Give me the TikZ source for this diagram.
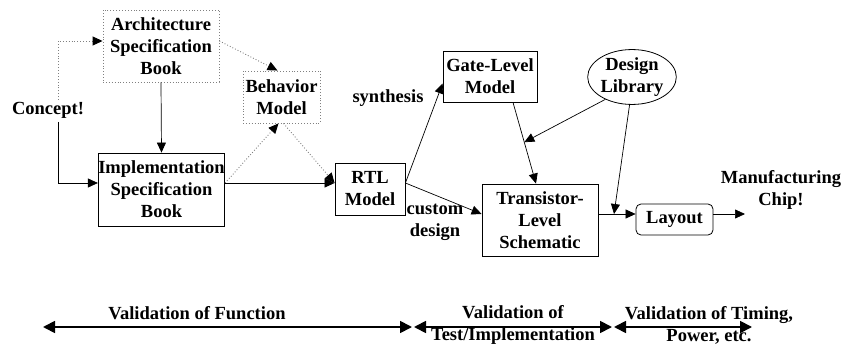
\documentclass[tikz,border=0pt]{standalone}
\usepackage{fontspec}
\setmainfont{Liberation Serif}
\usetikzlibrary{arrows.meta,shapes.geometric}
\begin{document}
\begin{tikzpicture}[x=1pt,y=-1pt,
  txt/.style={font=\fontsize{18.5}{22}\selectfont\bfseries, align=center, inner sep=0pt},
  box/.style={txt, draw, line width=0.8pt},
  dotbox/.style={txt, draw=gray, dotted, line width=0.9pt},
  arr/.style={line width=0.7pt, -{Triangle[length=10pt,width=9pt]}},
  dotarr/.style={draw=gray, dotted, line width=0.9pt, -{Triangle[length=10pt,width=9pt,color=black]}},
  bigarr/.style={line width=1.8pt, {Triangle[length=12pt,width=12pt]}-{Triangle[length=12pt,width=12pt]}}
]
\useasboundingbox (0,0) rectangle (844,350);
% nodes
\node[dotbox, minimum width=116pt, minimum height=72pt] (arch) at (161,46) {Architecture\\Specification\\Book};
\node[box, minimum width=115pt, minimum height=73pt] (impl) at (161.5,189.5) {Implementation\\Specification\\Book};
\node[dotbox, minimum width=77pt, minimum height=52pt] (beh) at (281.5,97) {Behavior\\Model};
\node[box, minimum width=70pt, minimum height=52pt] (rtl) at (370,189) {RTL\\Model};
\node[box, minimum width=94pt, minimum height=51pt] (gate) at (490,76.5) {Gate-Level\\Model};
\node[box, ellipse, minimum width=86pt, minimum height=51pt] (lib) at (632,77) {Design\\Library};
\node[box, minimum width=116pt, minimum height=72pt] (trans) at (540,220) {Transistor-\\Level\\Schematic};
\node[box, rounded corners=5pt, minimum width=77pt, minimum height=31pt] (layout) at (674.5,219.5) {Layout};
\node[txt] (concept) at (48,110) {Concept!};
\node[txt] (synth) at (388,98) {synthesis};
\node[txt] (custom) at (435,222) {custom\\design};
\node[txt] (manu) at (781,190) {Manufacturing\\Chip!};
\node[txt] (vf) at (197,313) {Validation of Function};
\node[txt] (vt) at (513,325) {Validation of\\Test/Implementation};
\node[txt] (vp) at (709,325) {Validation of Timing,\\Power, etc.};
% coordinates
\coordinate (cu) at (58,100);
\coordinate (cd) at (58,122);
\coordinate (k41) at (58,41);
\coordinate (k183) at (58,183);
\coordinate (y214) at (0,214);
\coordinate (mout) at (745,214);
\coordinate (a1l) at (43,327);
\coordinate (a1r) at (412,327);
\coordinate (a2l) at (414,327);
\coordinate (a2r) at (612,327);
\coordinate (a3l) at (614,327);
\coordinate (a3r) at (752,327);
% connectors
\draw[dotarr] (cu) -- (k41) -- (arch.west |- k41);
\draw[arr] (cd) -- (k183) -- (impl.west |- k183);
\draw[arr] (arch.south) -- (impl.north);
\draw[dotarr] (arch.east |- k41) -- ([xshift=-4pt]beh.north);
\draw[dotarr] (impl.east |- k183) -- ([xshift=-3pt]beh.south);
\draw[dotarr] ([xshift=2pt]beh.south) -- ([yshift=6pt]rtl.west);
\draw[arr] (impl.east |- k183) -- ([yshift=6pt]rtl.west);
\draw[arr] ([yshift=6pt]rtl.east) -- ([yshift=-7pt]gate.west);
\draw[arr] ([yshift=6pt]rtl.east) -- ([yshift=6pt]trans.west);
\draw[arr] ([xshift=23pt]gate.south) -- coordinate[pos=0.49] (gm) ([xshift=-4pt]trans.north);
\draw[arr] (lib.220) -- (gm);
\draw[arr] (trans.east |- y214) -- coordinate[pos=0.42] (tm) (layout.west |- y214);
\draw[arr] (lib.265) -- (tm);
\draw[arr] (layout.east |- y214) -- (mout);
\draw[bigarr] (a1l) -- (a1r);
\draw[bigarr] (a2l) -- (a2r);
\draw[bigarr] (a3l) -- (a3r);
\end{tikzpicture}
\end{document}
